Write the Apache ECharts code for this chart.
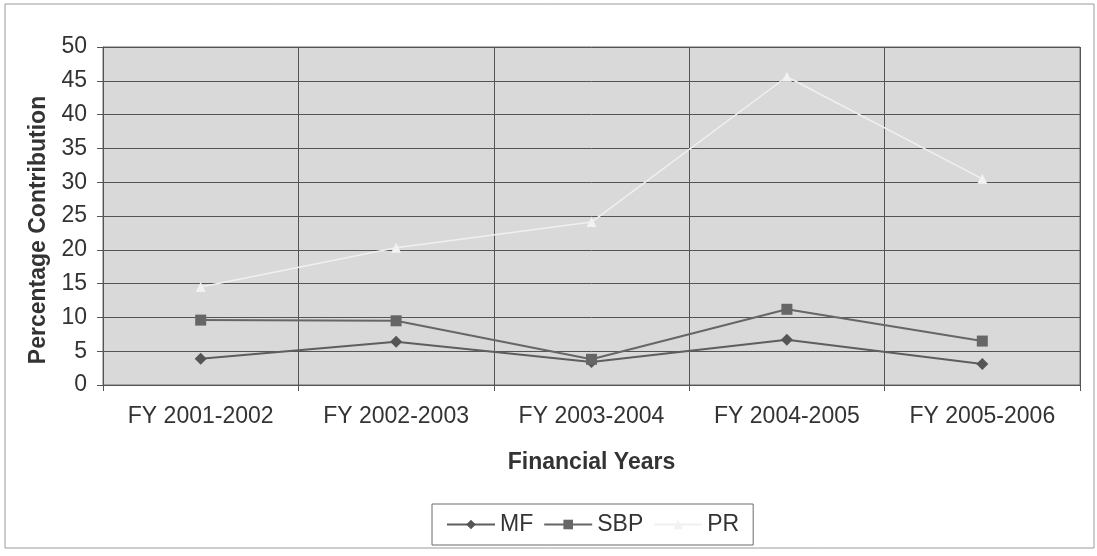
<!DOCTYPE html>
<html>
<head>
<meta charset="utf-8">
<script src="https://cdn.jsdelivr.net/npm/echarts@6/dist/echarts.min.js"></script>
<style>
  html, body { margin: 0; padding: 0; background: #ffffff; }
  #chart { width: 1097px; height: 556px; }
</style>
</head>
<body>
<div id="chart"></div>
<script>
// Financial years on the category axis
const years = ['FY 2001-2002', 'FY 2002-2003', 'FY 2003-2004', 'FY 2004-2005', 'FY 2005-2006'];
// Percentage contribution per series
const mfValues = [3.9, 6.4, 3.4, 6.7, 3.1];
const sbpValues = [9.6, 9.5, 3.8, 11.2, 6.5];
const prValues = [14.5, 20.3, 24.1, 45.6, 30.5];

const FONT = '"Liberation Sans", Arial, sans-serif';
const TEXT = '#333333';
const chart = echarts.init(document.getElementById('chart'));

chart.setOption({
  animation: false,
  backgroundColor: '#ffffff',
  textStyle: { fontFamily: FONT },
  graphic: [{
    type: 'rect',
    shape: { x: 5, y: 4, width: 1089, height: 544 },
    style: { fill: 'none', stroke: '#9a9a9a', lineWidth: 1 },
    silent: true,
    z: -1
  }],
  grid: {
    left: 103, right: 17, top: 47, bottom: 171,
    show: true,
    backgroundColor: '#d9d9d9',
    borderColor: '#6a6a6a',
    borderWidth: 1
  },
  legend: {
    bottom: 11,
    left: 432,
    itemWidth: 48,
    itemHeight: 12,
    itemGap: 10,
    padding: [9, 14, 9, 14],
    borderColor: '#6a6a6a',
    borderWidth: 1,
    backgroundColor: '#ffffff',
    textStyle: { fontFamily: FONT, fontSize: 23, color: TEXT },
    data: ['MF', 'SBP', 'PR']
  },
  xAxis: {
    type: 'category',
    data: years,
    boundaryGap: true,
    name: 'Financial Years',
    nameLocation: 'middle',
    nameGap: 66,
    nameTextStyle: { fontFamily: FONT, fontSize: 23, fontWeight: 'bold', color: TEXT },
    axisLine: { lineStyle: { color: '#555555', width: 1 } },
    axisTick: { show: true, length: 6, lineStyle: { color: '#555555' } },
    axisLabel: { fontFamily: FONT, fontSize: 23, color: TEXT, margin: 20 },
    splitLine: { show: true, lineStyle: { color: '#555555', width: 1 } }
  },
  yAxis: {
    type: 'value',
    min: 0,
    max: 50,
    interval: 5,
    name: 'Percentage Contribution',
    nameLocation: 'middle',
    nameGap: 50,
    nameTextStyle: { fontFamily: FONT, fontSize: 23, fontWeight: 'bold', color: TEXT, padding: [0, 28, 0, 0] },
    axisLine: { show: true, lineStyle: { color: '#555555', width: 1 } },
    axisTick: { show: true, length: 6, lineStyle: { color: '#555555' } },
    axisLabel: { fontFamily: FONT, fontSize: 23, color: TEXT, margin: 16 },
    splitLine: { show: true, lineStyle: { color: '#555555', width: 1 } }
  },
  series: [
    {
      name: 'MF',
      type: 'line',
      data: mfValues,
      symbol: 'diamond',
      symbolSize: 12,
      itemStyle: { color: '#555555' },
      lineStyle: { color: '#5e5e5e', width: 2 }
    },
    {
      name: 'SBP',
      type: 'line',
      data: sbpValues,
      symbol: 'rect',
      symbolSize: 11,
      itemStyle: { color: '#666666' },
      lineStyle: { color: '#666666', width: 2 }
    },
    {
      name: 'PR',
      type: 'line',
      data: prValues,
      symbol: 'triangle',
      symbolSize: 10,
      itemStyle: { color: '#f2f2f2' },
      lineStyle: { color: '#f0f0f0', width: 1.5 }
    }
  ]
});
</script>
</body>
</html>
